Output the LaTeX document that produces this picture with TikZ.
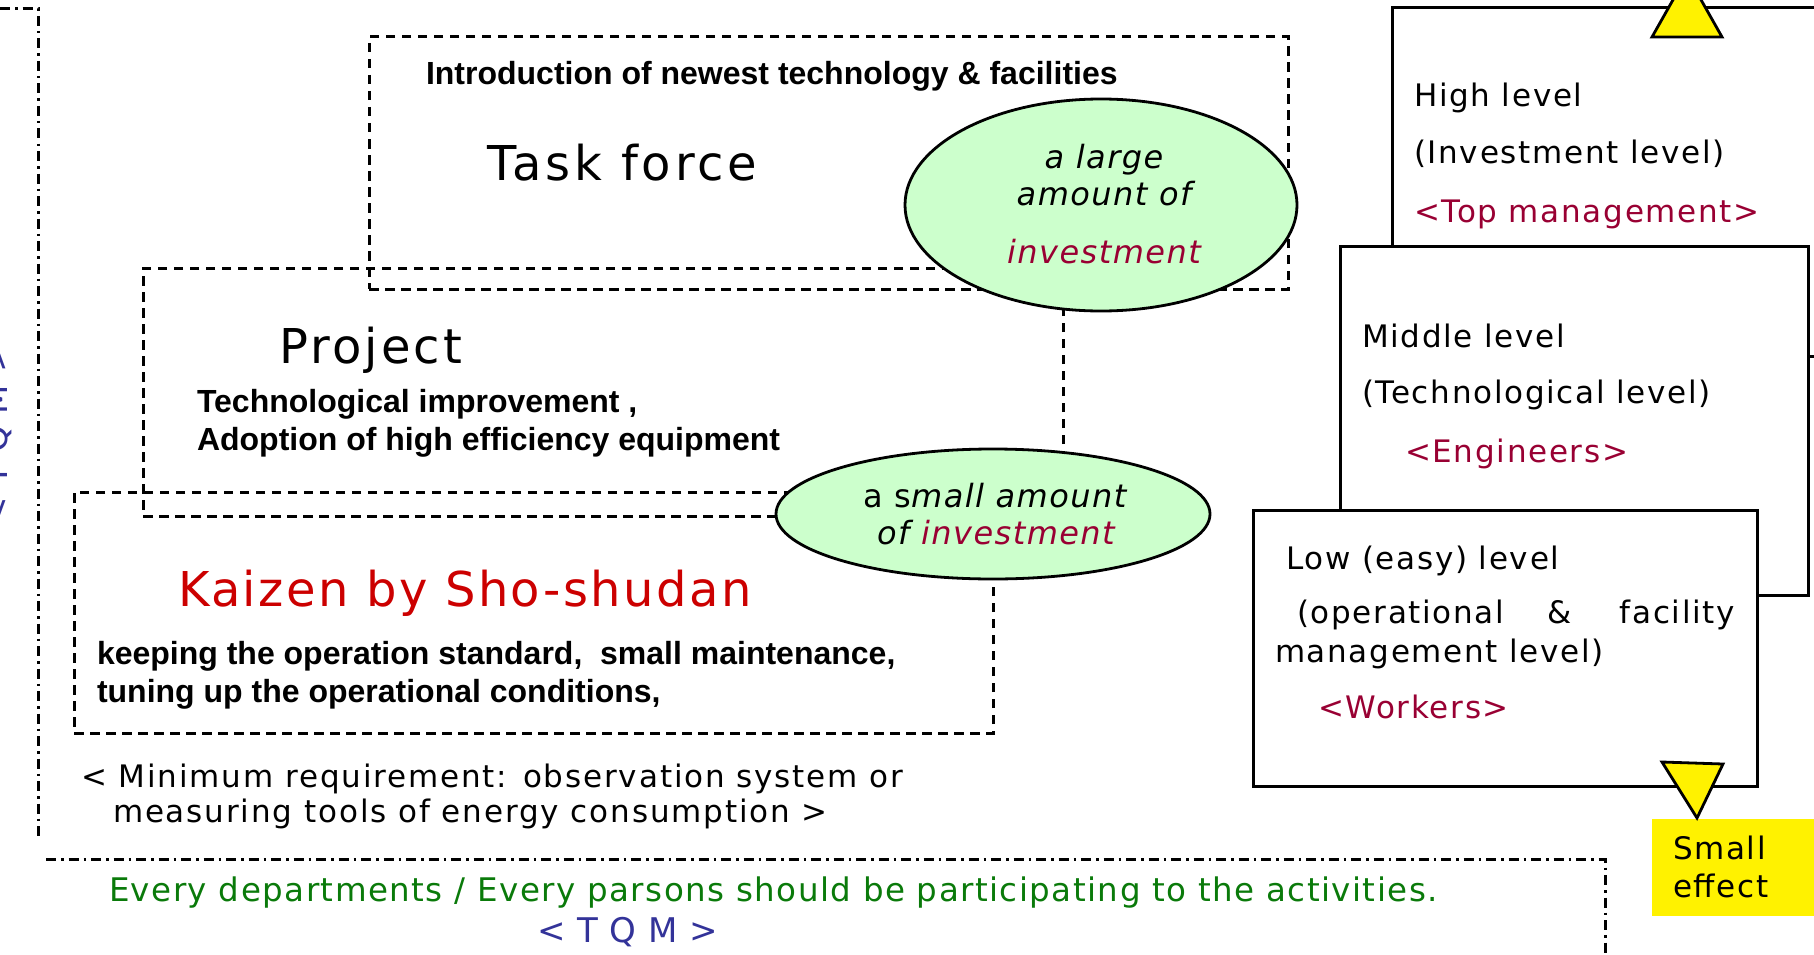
\documentclass[tikz,border=0pt]{standalone}
\usepackage{fontspec}
\setmainfont{DejaVu Sans}
\newfontfamily\arialfont{Liberation Sans}
\usetikzlibrary{shapes.geometric}
\definecolor{crim}{HTML}{990033}
\definecolor{kred}{HTML}{CC0000}
\definecolor{tgreen}{HTML}{0A7A0A}
\definecolor{tblue}{HTML}{333399}
\definecolor{ellfill}{HTML}{CCFFCC}
\newcommand{\fsz}[2]{\fontsize{#1}{#1}\selectfont\addfontfeature{LetterSpace=#2}}
\tikzset{
  x=1pt, y=-1pt,
  dbox/.style={draw, line width=3pt, dash pattern=on 9.5pt off 6.5pt, anchor=north west, inner sep=0, outer sep=0},
  sbox/.style={draw, fill=white, line width=3pt, anchor=north west, inner sep=0, outer sep=0},
  ddline/.style={line width=3pt, dash pattern=on 10pt off 5pt on 2.5pt off 5pt},
  ell/.style={ellipse, draw, fill=ellfill, line width=2.8pt, inner sep=0},
  tw/.style={anchor=base west, inner sep=0, outer sep=0},
  tc/.style={anchor=base, inner sep=0, outer sep=0},
  te/.style={anchor=base east, inner sep=0, outer sep=0},
  boldtxt/.style={tw, font=\arialfont\bfseries\fontsize{32}{32}\selectfont},
  rtxt/.style={tw, font=\fsz{31}{5.5}},
  elltxt/.style={tc, font=\itshape\fsz{32}{4.5}},
  tri/.style={draw, fill=yellow, line width=2.8pt, line join=miter},
}
\begin{document}
\begin{tikzpicture}
\useasboundingbox (0,0) rectangle (1814,955);
\clip (0,0) rectangle (1814,955);
% TQM frame (dash-dot)
\coordinate (tqa) at (0,9);
\coordinate (tqb) at (38,9);
\coordinate (tqc) at (38,840);
\coordinate (tqd) at (46,859);
\coordinate (tqe) at (1605,859);
\coordinate (tqf) at (1605,960);
\draw[ddline] (tqa) -- (tqb) -- (tqc);
\draw[ddline] (tqd) -- (tqe) -- (tqf);
\node[tc, rotate=90, text=tblue, font=\fsz{34}{3}] (tqmv) at (7,435) {< T Q M >};
% dashed boxes
\node[dbox, minimum width=919pt, minimum height=252pt] (tf) at (369,37) {};
\node[dbox, minimum width=920pt, minimum height=248pt] (pj) at (143,268) {};
\node[dbox, minimum width=919pt, minimum height=241pt] (kz) at (74,492) {};
% ellipses
\node[ell, minimum width=392pt, minimum height=212pt] (e1) at (1101,205) {};
\node[ell, minimum width=434pt, minimum height=130pt] (e2) at (993,514) {};
% texts left part
\node[boldtxt] (intro) at (426,85) {Introduction of newest technology \& facilities};
\node[tw, font=\fsz{48}{8}] (tfl) at (487,180) {Task force};
\node[tw, font=\fsz{48}{6.6}] (pjl) at (279,363) {Project};
\node[boldtxt] (tech1) at (197,412) {Technological improvement ,};
\node[boldtxt] (tech2) at (197,450) {Adoption of high efficiency equipment};
\node[tw, text=kred, font=\fsz{48}{5}] (kzl) at (178,606) {Kaizen by Sho-shudan};
\node[boldtxt] (keep1) at (97,664) {keeping the operation standard,\ \ small maintenance,};
\node[boldtxt] (keep2) at (97,702) {tuning up the operational conditions,};
\node[tw, font=\fsz{31}{6}] (min1) at (81,787) {< Minimum requirement: observation system or};
\node[tw, font=\fsz{31}{6}] (min2) at (113,822) {measuring tools of energy consumption >};
\node[tw, text=tgreen, font=\fsz{32.5}{4.5}] (every) at (109,901) {Every departments / Every parsons should be participating to the activities.};
\node[tw, text=tblue, font=\fsz{34}{3}] (tqmh) at (537,942) {< T Q M >};
% ellipse texts
\node[elltxt] (e1a) at (1104,168) {a large};
\node[elltxt] (e1b) at (1104,205) {amount of};
\node[elltxt, text=crim] (e1c) at (1104,263) {investment};
\node[tc, font=\fsz{32}{4.5}] (e2a) at (996,507) {a s\textit{mall amount}};
\node[elltxt] (e2b) at (996,544) {of \textcolor{crim}{investment}};
% right boxes
\node[sbox, minimum width=440pt, minimum height=348pt] (hb) at (1392,8) {};
\draw[tri] (1652,37) -- (1722,37) -- (1687,-25) -- cycle;
\node[rtxt] (hb1) at (1414,107) {High level};
\node[rtxt] (hb2) at (1414,164) {(Investment level)};
\node[rtxt, text=crim] (hb3) at (1414,222) {<Top management>};
\node[sbox, minimum width=468pt, minimum height=349pt] (mb) at (1340,246) {};
\node[rtxt] (mb1) at (1362,347) {Middle level};
\node[rtxt] (mb2) at (1362,403) {(Technological level)};
\node[rtxt, text=crim] (mb3) at (1405,462) {<Engineers>};
\node[sbox, minimum width=504pt, minimum height=276pt] (lb) at (1253,510) {};
\node[rtxt] (lb1) at (1286,569) {Low (easy) level};
\node[rtxt] (lb2a) at (1297,623) {(operational};
\node[tc, font=\fsz{31}{5.5}] (lb2b) at (1560,623) {\&};
\node[te, font=\fsz{31}{5.5}] (lb2c) at (1735,623) {facility};
\node[rtxt] (lb3) at (1275,662) {management level)};
\node[rtxt, text=crim] (lb4) at (1318,718) {<Workers>};
% small effect
\node[fill=yellow, anchor=north west, minimum width=180pt, minimum height=97pt, inner sep=0] (se) at (1652,819) {};
\draw[tri] (1662,762) -- (1723,764) -- (1697,818) -- cycle;
\node[rtxt] (se1) at (1673,859) {Small};
\node[rtxt] (se2) at (1673,897) {effect};
\end{tikzpicture}
\end{document}
